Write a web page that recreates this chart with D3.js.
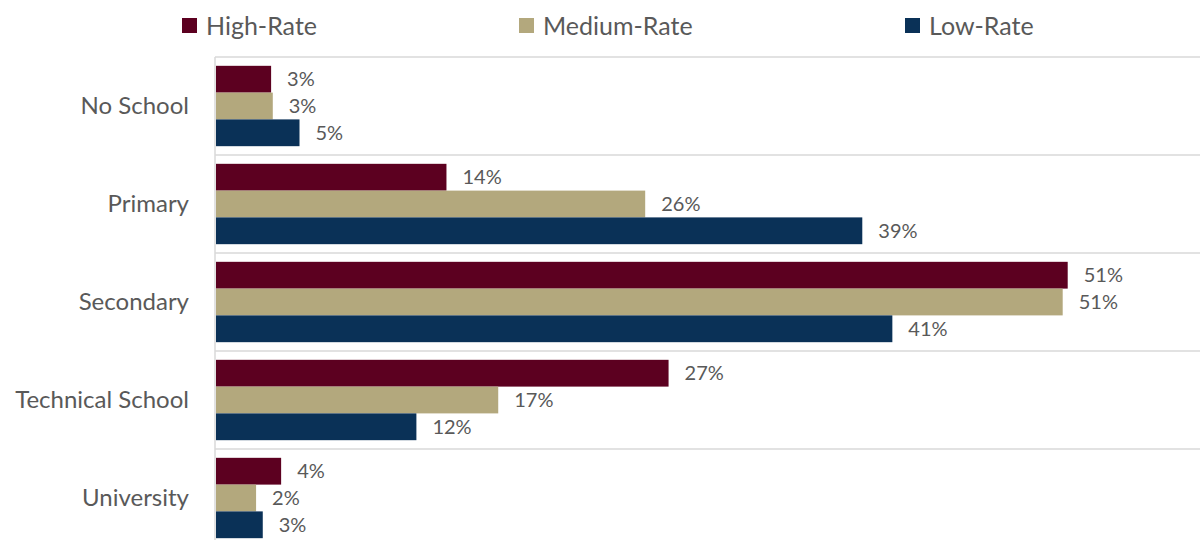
<!DOCTYPE html>
<html>
<head>
<meta charset="utf-8">
<script src="https://cdn.jsdelivr.net/npm/d3@7"></script>
<style>
  body { margin: 0; background: #fff; }
  text { font-family: Lato, "Open Sans", sans-serif; fill: #595959; }
</style>
</head>
<body>
<div id="chart"></div>
<script>
const categories = ["No School", "Primary", "Secondary", "Technical School", "University"];
const seriesNames = ["High-Rate", "Medium-Rate", "Low-Rate"];
const highRate = [3.3, 13.8, 51.0, 27.1, 3.9];
const mediumRate = [3.4, 25.7, 50.7, 16.9, 2.4];
const lowRate = [5.0, 38.7, 40.5, 12.0, 2.8];
const colors = ["#5c0020", "#b3a87d", "#0a3157"];

const width = 1200, height = 540;
const plotLeft = 216, plotTop = 57, step = 98;

const svg = d3.select("#chart").append("svg")
    .attr("width", width)
    .attr("height", height);

const series = [highRate, mediumRate, lowRate];

// scales
const x = d3.scaleLinear().domain([0, 60]).range([plotLeft, plotLeft + 60 * 16.7]);
const y = d3.scaleBand()
    .domain(categories)
    .range([plotTop, plotTop + step * categories.length])
    .paddingInner(0.18)
    .paddingOuter(0.09);
const ySub = d3.scaleBand()
    .domain(seriesNames)
    .range([0, y.bandwidth()]);

// gridlines between categories
svg.append("g")
    .selectAll("line")
    .data(d3.range(categories.length + 1))
    .enter()
    .append("line")
    .attr("x1", plotLeft - 1)
    .attr("x2", width)
    .attr("y1", (i) => plotTop + i * y.step())
    .attr("y2", (i) => plotTop + i * y.step())
    .attr("stroke", "#d9d9d9")
    .attr("stroke-width", 1.5);

// bars
const groups = svg.append("g")
    .selectAll("g")
    .data(categories)
    .enter()
    .append("g")
    .attr("transform", (d) => `translate(0,${y(d)})`);

groups.selectAll("rect")
    .data((d, i) => seriesNames.map((s, j) => ({ s, v: series[j][i], c: colors[j] })))
    .enter()
    .append("rect")
    .attr("x", x(0))
    .attr("y", (d) => ySub(d.s))
    .attr("width", (d) => x(d.v) - x(0))
    .attr("height", ySub.bandwidth())
    .attr("fill", (d) => d.c);

groups.selectAll("text")
    .data((d, i) => seriesNames.map((s, j) => ({ s, v: series[j][i] })))
    .enter()
    .append("text")
    .attr("x", (d) => x(d.v) + 16)
    .attr("y", (d) => ySub(d.s) + ySub.bandwidth() / 2)
    .attr("dy", "0.36em")
    .attr("font-size", 20)
    .text((d) => Math.round(d.v) + "%");

// y axis
const yAxis = d3.axisLeft(y).tickSize(0).tickPadding(26);
const ya = svg.append("g")
    .attr("transform", `translate(${plotLeft - 1},0)`)
    .call(yAxis);
ya.select(".domain").attr("stroke", "#d9d9d9").attr("stroke-width", 1.5)
    .attr("d", `M0,${plotTop}V${height}`);
ya.selectAll("text")
    .attr("font-size", 24)
    .style("font-family", "Lato, 'Open Sans', sans-serif")
    .attr("fill", "#595959");

// legend
const legendX = [182, 519, 905];
const legend = svg.append("g")
    .selectAll("g")
    .data(seriesNames)
    .enter()
    .append("g")
    .attr("transform", (d, i) => `translate(${legendX[i]},18)`);
legend.append("rect")
    .attr("width", 15)
    .attr("height", 15)
    .attr("fill", (d, i) => colors[i]);
legend.append("text")
    .attr("x", 24)
    .attr("y", 8)
    .attr("dy", "0.36em")
    .attr("font-size", 25)
    .text((d) => d);
</script>
</body>
</html>
